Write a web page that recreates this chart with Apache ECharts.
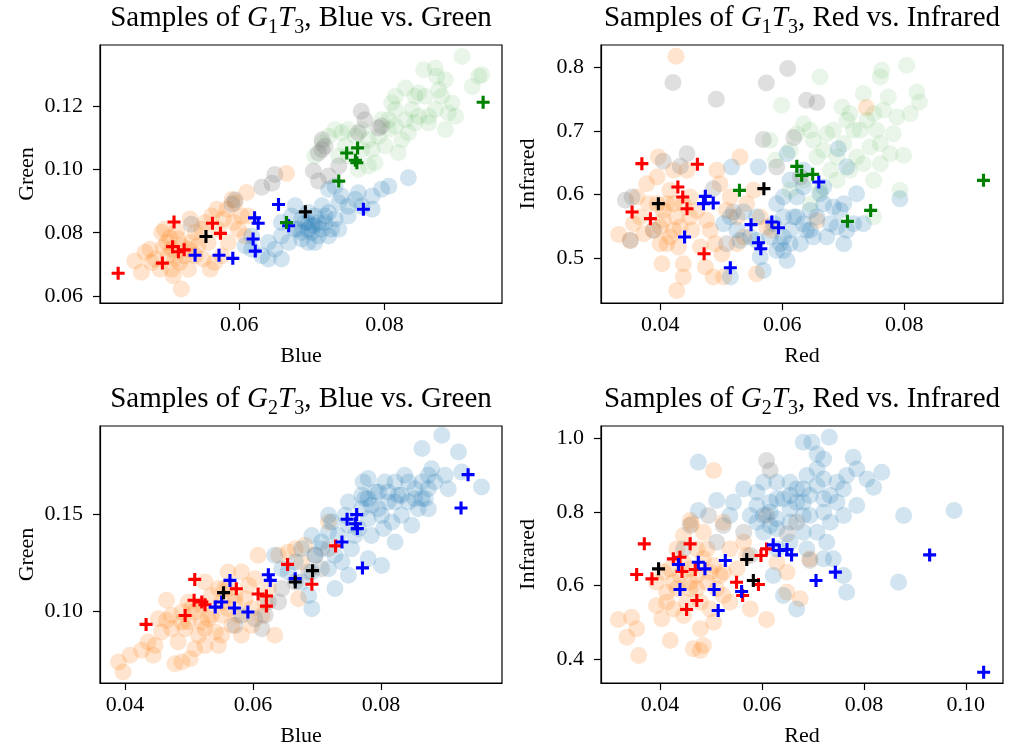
<!DOCTYPE html>
<html><head><meta charset="utf-8">
<script src="https://cdn.jsdelivr.net/npm/echarts@6/dist/echarts.min.js"></script>
<style>html,body{margin:0;padding:0;background:#fff}#c{width:1014px;height:749px}</style>
</head><body><div id="c"></div>
<script>
// ---------- Panel 1: G1T3 Blue vs Green ----------
const p1Orange=[[0.0456,0.0711],[0.0465,0.0675],[0.0477,0.0748],[0.0484,0.0717],[0.0493,0.0801],[0.0500,0.0769],[0.0507,0.0685],[0.0509,0.0664],[0.0520,0.0622],[0.0518,0.0706],[0.0525,0.0727],[0.0532,0.0843],[0.0539,0.0801],[0.0543,0.0759],[0.0550,0.0717],[0.0557,0.0769],[0.0562,0.0853],[0.0571,0.0811],[0.0583,0.0874],[0.0590,0.0905],[0.0594,0.0895],[0.0603,0.0853],[0.0610,0.0927],[0.0599,0.0811],[0.0585,0.0769],[0.0576,0.0727],[0.0566,0.0706],[0.0665,0.0987],[0.0497,0.0811],[0.0479,0.0706],[0.0470,0.0738],[0.0491,0.0685],[0.0511,0.0717],[0.0534,0.0769],[0.0548,0.0811],[0.0608,0.0790],[0.0612,0.0853],[0.0560,0.0685],[0.0530,0.0685],[0.0495,0.0753],[0.0504,0.0785],[0.0514,0.0806],[0.0553,0.0832],[0.0569,0.0874],[0.0578,0.0843],[0.0592,0.0832],[0.0507,0.0748],[0.0520,0.0759],[0.0516,0.0780],[0.0530,0.0748],[0.0502,0.0727],[0.0539,0.0727]];
const p1Gray=[[0.0534,0.0827],[0.0594,0.0903],[0.0590,0.0890],[0.0631,0.0944],[0.0645,0.0956],[0.0649,0.0984],[0.0702,0.0995],[0.0714,0.1094],[0.0714,0.1063],[0.0718,0.1073],[0.0709,0.1052],[0.0723,0.0979],[0.0768,0.1184],[0.0773,0.1157],[0.0792,0.1131],[0.0796,0.1137],[0.0764,0.1116],[0.0737,0.1011],[0.0709,0.0963]];
const p1Blue=[[0.0608,0.0759],[0.0617,0.0790],[0.0631,0.0727],[0.0640,0.0717],[0.0649,0.0748],[0.0658,0.0717],[0.0658,0.0790],[0.0668,0.0769],[0.0677,0.0811],[0.0672,0.0853],[0.0686,0.0843],[0.0695,0.0811],[0.0700,0.0822],[0.0704,0.0853],[0.0709,0.0790],[0.0718,0.0832],[0.0723,0.0864],[0.0727,0.0811],[0.0732,0.0843],[0.0737,0.0895],[0.0741,0.0916],[0.0750,0.0884],[0.0760,0.0905],[0.0764,0.0926],[0.0769,0.0884],[0.0783,0.0874],[0.0783,0.0916],[0.0796,0.0937],[0.0806,0.0947],[0.0833,0.0974],[0.0723,0.0937],[0.0732,0.0947],[0.0677,0.0885],[0.0695,0.0864],[0.0714,0.0885],[0.0737,0.0811],[0.0658,0.0832],[0.0640,0.0769],[0.0617,0.0748],[0.0750,0.0853],[0.0686,0.0780],[0.0681,0.0811],[0.0691,0.0832],[0.0700,0.0801],[0.0704,0.0822],[0.0695,0.0769],[0.0714,0.0811],[0.0723,0.0790],[0.0686,0.0801],[0.0704,0.0769],[0.0718,0.0853],[0.0709,0.0832],[0.0695,0.0832]];
const p1Green=[[0.0704,0.1042],[0.0714,0.1084],[0.0723,0.1105],[0.0732,0.1126],[0.0741,0.1116],[0.0750,0.1126],[0.0760,0.1105],[0.0769,0.1126],[0.0778,0.1094],[0.0783,0.1063],[0.0792,0.1105],[0.0801,0.1074],[0.0806,0.1126],[0.0815,0.1137],[0.0815,0.1189],[0.0810,0.1210],[0.0824,0.1094],[0.0829,0.1157],[0.0833,0.1116],[0.0838,0.1189],[0.0842,0.1231],[0.0847,0.1168],[0.0856,0.1231],[0.0861,0.1168],[0.0870,0.1189],[0.0875,0.1252],[0.0879,0.1231],[0.0884,0.1283],[0.0888,0.1178],[0.0893,0.1210],[0.0898,0.1168],[0.0907,0.1357],[0.0921,0.1262],[0.0930,0.1294],[0.0934,0.1299],[0.0854,0.1315],[0.0870,0.1320],[0.0872,0.1294],[0.0829,0.1257],[0.0750,0.1042],[0.0764,0.1000],[0.0778,0.1011],[0.0787,0.1021],[0.0737,0.1042],[0.0746,0.1074],[0.0769,0.1063],[0.0796,0.1157],[0.0806,0.1157],[0.0819,0.1053],[0.0842,0.1147],[0.0861,0.1147],[0.0884,0.1126],[0.0847,0.1242],[0.0815,0.1231]];
const p1RedX=[[0.0433,0.0672],[0.0494,0.0704],[0.0510,0.0834],[0.0508,0.0756],[0.0516,0.0740],[0.0524,0.0746],[0.0563,0.0830],[0.0574,0.0798]];
const p1BlueX=[[0.0539,0.0729],[0.0572,0.0729],[0.0591,0.0719],[0.0619,0.0780],[0.0622,0.0742],[0.0621,0.0847],[0.0626,0.0830],[0.0654,0.0889],[0.0668,0.0822],[0.0771,0.0874]];
const p1GreenX=[[0.0665,0.0832],[0.0748,0.1052],[0.0763,0.1068],[0.0760,0.1029],[0.0762,0.1021],[0.0737,0.0963],[0.0936,0.1212]];
const p1BlackX=[[0.0554,0.0788],[0.0691,0.0866]];

// ---------- Panel 2: G1T3 Red vs Infrared ----------
const p2Orange=[[0.0426,0.8169],[0.0738,0.7364],[0.0332,0.5378],[0.0351,0.5284],[0.0356,0.5545],[0.0367,0.5650],[0.0378,0.6173],[0.0381,0.5859],[0.0389,0.5441],[0.0395,0.6277],[0.0397,0.6591],[0.0400,0.5232],[0.0403,0.4918],[0.0405,0.5598],[0.0411,0.5859],[0.0416,0.6068],[0.0422,0.5441],[0.0427,0.5650],[0.0430,0.5179],[0.0438,0.4709],[0.0427,0.4500],[0.0438,0.4918],[0.0449,0.5963],[0.0452,0.5441],[0.0460,0.5754],[0.0466,0.5179],[0.0474,0.4866],[0.0476,0.5598],[0.0482,0.5441],[0.0487,0.4709],[0.0493,0.6382],[0.0498,0.6173],[0.0501,0.5070],[0.0504,0.4709],[0.0509,0.5754],[0.0515,0.5963],[0.0526,0.5650],[0.0531,0.6591],[0.0537,0.5336],[0.0542,0.5859],[0.0553,0.6068],[0.0558,0.4761],[0.0564,0.5650],[0.0575,0.5493],[0.0583,0.5441],[0.0657,0.5597],[0.0362,0.5963],[0.0373,0.5388],[0.0411,0.5232],[0.0444,0.6382],[0.0526,0.5232],[0.0490,0.5232],[0.0422,0.6382],[0.0395,0.5859],[0.0405,0.5754],[0.0422,0.5859],[0.0433,0.5493],[0.0416,0.5336],[0.0449,0.5650],[0.0438,0.5859],[0.0400,0.5493]];
const p2Gray=[[0.0421,0.7756],[0.0492,0.7495],[0.0574,0.7751],[0.0609,0.7976],[0.0640,0.7479],[0.0657,0.7443],[0.0569,0.6863],[0.0619,0.6894],[0.0444,0.6643],[0.0405,0.6523],[0.0433,0.6444],[0.0354,0.5963],[0.0343,0.5911],[0.0351,0.5284],[0.0389,0.5441],[0.0509,0.5232],[0.0591,0.6434],[0.0487,0.6094],[0.0520,0.5728],[0.0630,0.6277]];
const p2Blue=[[0.0517,0.6434],[0.0561,0.6434],[0.0608,0.6643],[0.0692,0.6721],[0.0706,0.6434],[0.0793,0.5937],[0.0504,0.5545],[0.0515,0.5650],[0.0526,0.5441],[0.0531,0.5284],[0.0537,0.5728],[0.0548,0.5336],[0.0558,0.5650],[0.0564,0.5022],[0.0569,0.4813],[0.0580,0.5336],[0.0591,0.5859],[0.0597,0.5232],[0.0602,0.5127],[0.0608,0.4970],[0.0613,0.5441],[0.0619,0.5650],[0.0624,0.5963],[0.0630,0.5232],[0.0635,0.6120],[0.0640,0.5441],[0.0646,0.5754],[0.0651,0.5336],[0.0657,0.5650],[0.0668,0.5859],[0.0673,0.5336],[0.0679,0.5545],[0.0684,0.5807],[0.0690,0.5493],[0.0695,0.5754],[0.0701,0.5859],[0.0706,0.5441],[0.0717,0.5545],[0.0722,0.6016],[0.0733,0.5545],[0.0701,0.5232],[0.0668,0.6120],[0.0635,0.6382],[0.0613,0.6225],[0.0586,0.5545],[0.0558,0.5284],[0.0662,0.6016],[0.0602,0.5963],[0.0515,0.4709],[0.0602,0.5336],[0.0613,0.5232],[0.0624,0.5650],[0.0635,0.5545],[0.0646,0.5441],[0.0602,0.5650],[0.0591,0.5127]];
const p2Green=[[0.0580,0.6852],[0.0589,0.6538],[0.0599,0.7401],[0.0613,0.6695],[0.0624,0.6956],[0.0635,0.7113],[0.0646,0.7009],[0.0651,0.6852],[0.0657,0.6591],[0.0662,0.7845],[0.0668,0.6695],[0.0673,0.6956],[0.0684,0.7009],[0.0690,0.6591],[0.0698,0.7375],[0.0701,0.6800],[0.0706,0.7166],[0.0711,0.7270],[0.0717,0.7009],[0.0722,0.6591],[0.0728,0.7009],[0.0733,0.7584],[0.0739,0.7166],[0.0744,0.6748],[0.0750,0.7270],[0.0755,0.7009],[0.0761,0.6800],[0.0761,0.7845],[0.0763,0.7950],[0.0766,0.7322],[0.0774,0.7532],[0.0777,0.6643],[0.0782,0.6956],[0.0788,0.7218],[0.0793,0.6068],[0.0799,0.6617],[0.0804,0.8028],[0.0810,0.7270],[0.0821,0.7610],[0.0825,0.7453],[0.0750,0.6225],[0.0761,0.6486],[0.0711,0.6382],[0.0679,0.6382],[0.0635,0.6225],[0.0662,0.6068],[0.0613,0.6068],[0.0646,0.5859],[0.0690,0.6225],[0.0733,0.6486],[0.0750,0.5650]];
const p2RedX=[[0.0370,0.6486],[0.0461,0.6476],[0.0429,0.6120],[0.0437,0.5963],[0.0354,0.5728],[0.0384,0.5624],[0.0444,0.5780],[0.0472,0.5075]];
const p2BlueX=[[0.0474,0.5974],[0.0471,0.5859],[0.0487,0.5869],[0.0440,0.5336],[0.0515,0.4855],[0.0549,0.5530],[0.0561,0.5247],[0.0565,0.5153],[0.0583,0.5571],[0.0594,0.5482],[0.0660,0.6199]];
const p2GreenX=[[0.0530,0.6068],[0.0624,0.6444],[0.0632,0.6303],[0.0650,0.6319],[0.0707,0.5582],[0.0745,0.5754],[0.0930,0.6225]];
const p2BlackX=[[0.0397,0.5859],[0.0570,0.6094]];

// ---------- Panel 3: G2T3 Blue vs Green ----------
const p3Orange=[[0.0390,0.0740],[0.0397,0.0688],[0.0408,0.0774],[0.0426,0.0800],[0.0436,0.0843],[0.0447,0.0825],[0.0444,0.0774],[0.0457,0.0894],[0.0465,0.0954],[0.0465,0.1057],[0.0473,0.0911],[0.0478,0.0731],[0.0483,0.0843],[0.0489,0.0740],[0.0494,0.0911],[0.0502,0.0757],[0.0504,0.1014],[0.0509,0.0808],[0.0515,0.0877],[0.0520,0.0945],[0.0525,0.0825],[0.0530,0.0962],[0.0535,0.1082],[0.0541,0.0894],[0.0546,0.0825],[0.0551,0.0980],[0.0556,0.1117],[0.0561,0.1202],[0.0567,0.0928],[0.0572,0.1048],[0.0577,0.0980],[0.0582,0.1202],[0.0588,0.1065],[0.0593,0.1134],[0.0598,0.1014],[0.0603,0.1168],[0.0608,0.1288],[0.0614,0.0980],[0.0619,0.1048],[0.0624,0.1117],[0.0634,0.0877],[0.0640,0.1288],[0.0655,0.1305],[0.0666,0.1322],[0.0676,0.1253],[0.0681,0.1339],[0.0671,0.1065],[0.0582,0.0877],[0.0452,0.0962],[0.0489,0.0997],[0.0525,0.1151],[0.0546,0.1117],[0.0561,0.1117],[0.0598,0.0928],[0.0718,0.1459],[0.0551,0.0877],[0.0499,0.0945],[0.0499,0.1048],[0.0509,0.0997],[0.0520,0.1031],[0.0535,0.0980],[0.0551,0.1048],[0.0572,0.1082],[0.0489,0.0945],[0.0473,0.0980],[0.0525,0.0911],[0.0561,0.1014]];
const p3Gray=[[0.0572,0.0928],[0.0582,0.0980],[0.0603,0.0962],[0.0619,0.0980],[0.0624,0.1048],[0.0640,0.1048],[0.0645,0.1117],[0.0666,0.1151],[0.0687,0.1202],[0.0697,0.1288],[0.0707,0.1219],[0.0718,0.1322],[0.0614,0.0911]];
const p3Blue=[[0.0634,0.1288],[0.0645,0.1219],[0.0666,0.1253],[0.0676,0.1151],[0.0687,0.1082],[0.0692,0.1014],[0.0692,0.1390],[0.0697,0.1288],[0.0707,0.1356],[0.0718,0.1219],[0.0723,0.1459],[0.0728,0.1117],[0.0733,0.1390],[0.0739,0.1253],[0.0744,0.1493],[0.0749,0.1185],[0.0754,0.1322],[0.0759,0.1390],[0.0765,0.1425],[0.0770,0.1527],[0.0772,0.1664],[0.0775,0.1579],[0.0780,0.1476],[0.0785,0.1390],[0.0791,0.1613],[0.0796,0.1527],[0.0801,0.1236],[0.0804,0.1425],[0.0811,0.1562],[0.0817,0.1459],[0.0822,0.1664],[0.0827,0.1596],[0.0832,0.1493],[0.0837,0.1699],[0.0843,0.1562],[0.0848,0.1442],[0.0853,0.1630],[0.0858,0.1527],[0.0864,0.1836],[0.0869,0.1579],[0.0874,0.1699],[0.0879,0.1733],[0.0884,0.1664],[0.0895,0.1904],[0.0900,0.1699],[0.0905,0.1630],[0.0921,0.1819],[0.0926,0.1716],[0.0957,0.1639],[0.0780,0.1270],[0.0718,0.1493],[0.0749,0.1562],[0.0806,0.1664],[0.0822,0.1356],[0.0749,0.1442],[0.0728,0.1288],[0.0692,0.1202],[0.0655,0.1202],[0.0676,0.1322],[0.0780,0.1682],[0.0864,0.1579],[0.0874,0.1527],[0.0770,0.1596],[0.0785,0.1545],[0.0796,0.1613],[0.0811,0.1613],[0.0822,0.1562],[0.0832,0.1596],[0.0843,0.1664],[0.0853,0.1579],[0.0864,0.1664],[0.0874,0.1630],[0.0801,0.1493],[0.0780,0.1579],[0.0718,0.1408],[0.0707,0.1322]];
const p3RedX=[[0.0433,0.0933],[0.0494,0.0979],[0.0509,0.1164],[0.0508,0.1057],[0.0520,0.1048],[0.0525,0.1034],[0.0574,0.1116],[0.0608,0.1089],[0.0621,0.1079],[0.0621,0.1027],[0.0654,0.1241],[0.0692,0.1139],[0.0729,0.1336]];
const p3BlueX=[[0.0564,0.1159],[0.0541,0.1022],[0.0551,0.1048],[0.0571,0.1017],[0.0592,0.0997],[0.0624,0.1188],[0.0627,0.1159],[0.0666,0.1168],[0.0739,0.1356],[0.0747,0.1473],[0.0762,0.1497],[0.0760,0.1450],[0.0763,0.1425],[0.0771,0.1223],[0.0925,0.1531],[0.0936,0.1702]];
const p3BlackX=[[0.0554,0.1096],[0.0666,0.1151],[0.0693,0.1209]];

// ---------- Panel 4: G2T3 Red vs Infrared ----------
const p4Orange=[[0.0505,0.9118],[0.0318,0.5078],[0.0344,0.5141],[0.0354,0.4825],[0.0335,0.4599],[0.0358,0.4102],[0.0393,0.5458],[0.0403,0.5096],[0.0420,0.4509],[0.0452,0.5548],[0.0465,0.4283],[0.0479,0.4238],[0.0485,0.4373],[0.0479,0.4825],[0.0505,0.5006],[0.0577,0.5367],[0.0609,0.5078],[0.0675,0.5639],[0.0649,0.6361],[0.0459,0.7762],[0.0462,0.7672],[0.0446,0.7356],[0.0472,0.6994],[0.0426,0.6090],[0.0413,0.5819],[0.0439,0.6271],[0.0459,0.5910],[0.0492,0.6090],[0.0505,0.6542],[0.0518,0.6271],[0.0524,0.5729],[0.0537,0.5548],[0.0551,0.6452],[0.0570,0.6813],[0.0479,0.5548],[0.0446,0.5187],[0.0498,0.5367],[0.0426,0.5367],[0.0393,0.6090],[0.0407,0.6361],[0.0433,0.6994],[0.0492,0.6994],[0.0537,0.6994],[0.0524,0.7717],[0.0485,0.7446],[0.0564,0.7175],[0.0459,0.6452],[0.0694,0.6723],[0.0629,0.6633],[0.0649,0.5819],[0.0420,0.6452],[0.0433,0.5910],[0.0459,0.6090],[0.0472,0.6271],[0.0485,0.6723],[0.0498,0.6361],[0.0511,0.5910],[0.0446,0.6633],[0.0413,0.5548],[0.0524,0.6361],[0.0472,0.5910]];
const p4Gray=[[0.0609,0.9389],[0.0616,0.9118],[0.0495,0.7898],[0.0459,0.7627],[0.0446,0.6994],[0.0524,0.7627],[0.0564,0.7446],[0.0609,0.7898],[0.0649,0.7401],[0.0668,0.7717],[0.0694,0.6678],[0.0577,0.6813],[0.0511,0.7175]];
const p4Blue=[[0.0475,0.9344],[0.0681,0.9886],[0.0698,0.9886],[0.0732,1.0022],[0.0708,0.9570],[0.0721,0.9434],[0.0779,0.9479],[0.0786,0.9163],[0.0806,0.8892],[0.0819,0.8666],[0.0835,0.9073],[0.0878,0.7898],[0.0977,0.8034],[0.0868,0.6090],[0.0766,0.5819],[0.0668,0.5367],[0.0642,0.5729],[0.0622,0.6271],[0.0708,0.9163],[0.0721,0.8892],[0.0747,0.8802],[0.0760,0.8621],[0.0766,0.8982],[0.0688,0.8982],[0.0668,0.8621],[0.0655,0.8802],[0.0642,0.8350],[0.0616,0.8259],[0.0603,0.8802],[0.0590,0.8531],[0.0564,0.8621],[0.0544,0.8259],[0.0511,0.8305],[0.0475,0.8034],[0.0537,0.7898],[0.0577,0.7898],[0.0590,0.7717],[0.0603,0.7446],[0.0629,0.7808],[0.0655,0.8079],[0.0681,0.8259],[0.0694,0.7898],[0.0721,0.7988],[0.0734,0.7717],[0.0747,0.8259],[0.0760,0.7898],[0.0786,0.8169],[0.0681,0.7446],[0.0708,0.7446],[0.0727,0.7175],[0.0740,0.6723],[0.0760,0.6271],[0.0688,0.6994],[0.0721,0.6723],[0.0655,0.7175],[0.0629,0.6994],[0.0616,0.7627],[0.0629,0.8802],[0.0734,0.8440],[0.0590,0.8169],[0.0616,0.7988],[0.0629,0.8350],[0.0655,0.8440],[0.0668,0.8259],[0.0681,0.8621],[0.0694,0.8440],[0.0708,0.8711],[0.0721,0.8350],[0.0629,0.7537],[0.0603,0.7898],[0.0655,0.7717],[0.0681,0.7898]];
const p4RedX=[[0.0369,0.7130],[0.0459,0.7130],[0.0354,0.6298],[0.0384,0.6181],[0.0426,0.6723],[0.0439,0.6768],[0.0443,0.6380],[0.0469,0.6434],[0.0472,0.5593],[0.0452,0.5349],[0.0550,0.6090],[0.0562,0.5729],[0.0593,0.6027],[0.0598,0.6813],[0.0609,0.6994]];
const p4BlueX=[[0.0436,0.6569],[0.0475,0.6633],[0.0488,0.6452],[0.0528,0.6678],[0.0439,0.5892],[0.0506,0.5892],[0.0514,0.5322],[0.0560,0.5837],[0.0622,0.7103],[0.0634,0.6949],[0.0649,0.6976],[0.0658,0.6831],[0.0706,0.6136],[0.0744,0.6362],[0.0929,0.6831],[0.1035,0.3650]];
const p4BlackX=[[0.0397,0.6452],[0.0570,0.6705],[0.0583,0.6136]];

// ---------- ticks & labels ----------
const p1XTicks=[0.06,0.08], p1YTicks=[0.06,0.08,0.10,0.12];
const p2XTicks=[0.04,0.06,0.08], p2YTicks=[0.5,0.6,0.7,0.8];
const p3XTicks=[0.04,0.06,0.08], p3YTicks=[0.10,0.15];
const p4XTicks=[0.04,0.06,0.08,0.10], p4YTicks=[0.4,0.6,0.8,1.0];
const titles=[["G","1","T","3",", Blue vs. Green"],["G","1","T","3",", Red vs. Infrared"],["G","2","T","3",", Blue vs. Green"],["G","2","T","3",", Red vs. Infrared"]];
const xNames=["Blue","Red","Blue","Red"], yNames=["Green","Infrared","Green","Infrared"];

const FONT='"Liberation Serif", "DejaVu Serif", serif';
const PLUS='path://M3.8,0H6.2V3.8H10V6.2H6.2V10H3.8V6.2H0V3.8H3.8Z';
const grids=[{left:100,top:45,width:402,height:258},{left:601,top:45,width:402,height:258},{left:100,top:426,width:402,height:257},{left:601,top:426,width:402,height:257}];
const ranges=[
  {x:[0.0408,0.0962],y:[0.0578,0.1393],xt:p1XTicks,yt:p1YTicks,xd:2,yd:2},
  {x:[0.0303,0.0962],y:[0.4303,0.8345],xt:p2XTicks,yt:p2YTicks,xd:2,yd:1},
  {x:[0.0361,0.0989],y:[0.0632,0.1952],xt:p3XTicks,yt:p3YTicks,xd:2,yd:2},
  {x:[0.0284,0.1073],y:[0.3357,1.0326],xt:p4XTicks,yt:p4YTicks,xd:2,yd:1}
];
const OR='rgba(255,127,14,0.2)', BL='rgba(31,119,180,0.2)', GR='rgba(44,160,44,0.1)', GY='rgba(128,128,128,0.25)';
const panels=[
  {circles:[[p1Orange,OR],[p1Blue,BL],[p1Green,GR],[p1Gray,GY]],crosses:[[p1RedX,'#ff0000'],[p1BlueX,'#0000ff'],[p1GreenX,'#008000'],[p1BlackX,'#000000']]},
  {circles:[[p2Orange,OR],[p2Blue,BL],[p2Green,GR],[p2Gray,GY]],crosses:[[p2RedX,'#ff0000'],[p2BlueX,'#0000ff'],[p2GreenX,'#008000'],[p2BlackX,'#000000']]},
  {circles:[[p3Orange,OR],[p3Blue,BL],[p3Gray,GY]],crosses:[[p3RedX,'#ff0000'],[p3BlueX,'#0000ff'],[p3BlackX,'#000000']]},
  {circles:[[p4Orange,OR],[p4Blue,BL],[p4Gray,GY]],crosses:[[p4RedX,'#ff0000'],[p4BlueX,'#0000ff'],[p4BlackX,'#000000']]}
];

const option={animation:false,backgroundColor:'#fff',title:[],grid:[],xAxis:[],yAxis:[],series:[]};
const lineSt={color:'#000',width:1.2};
const base={fontFamily:FONT,color:'#000',fontWeight:'normal',lineHeight:34,verticalAlign:'bottom'};
grids.forEach((g,i)=>{
  option.grid.push(Object.assign({show:true,borderColor:'#000',borderWidth:1.2,backgroundColor:'transparent'},g));
  const r=ranges[i];
  const t=titles[i];
  option.title.push({
    text:'{n|Samples of }{it|'+t[0]+'}{sub|'+t[1]+'}{it|'+t[2]+'}{sub|'+t[3]+'}{n|'+t[4]+'}',
    left:g.left+g.width/2, top:g.top-46, textAlign:'center', padding:0,
    textStyle:{fontWeight:'normal',rich:{
      n:Object.assign({},base,{fontSize:29}),
      it:Object.assign({},base,{fontSize:29,fontStyle:'italic'}),
      sub:Object.assign({},base,{fontSize:20,padding:[0,0,-5,0]})
    }}
  });
  option.xAxis.push({
    type:'value',gridIndex:i,min:r.x[0],max:r.x[1],position:'bottom',
    name:xNames[i],nameLocation:'middle',nameGap:42,
    nameTextStyle:{fontFamily:FONT,fontSize:22,color:'#000'},
    axisLine:{show:true,onZero:false,lineStyle:lineSt},
    splitLine:{show:false},
    axisTick:{show:true,length:7,lineStyle:lineSt,customValues:r.xt},
    axisLabel:{show:true,margin:11,fontFamily:FONT,fontSize:22,color:'#000',customValues:r.xt,formatter:(v)=>v.toFixed(r.xd)}
  });
  option.yAxis.push({
    type:'value',gridIndex:i,min:r.y[0],max:r.y[1],
    name:yNames[i],nameLocation:'middle',nameGap:62,nameRotate:90,
    nameTextStyle:{fontFamily:FONT,fontSize:22,color:'#000'},
    axisLine:{show:true,onZero:false,lineStyle:lineSt},
    splitLine:{show:false},
    axisTick:{show:true,length:7,lineStyle:lineSt,customValues:r.yt},
    axisLabel:{show:true,margin:17,fontFamily:FONT,fontSize:22,color:'#000',customValues:r.yt,formatter:(v)=>v.toFixed(r.yd)}
  });
  panels[i].circles.forEach(([d,c])=>{
    option.series.push({type:'scatter',xAxisIndex:i,yAxisIndex:i,data:d,symbol:'circle',symbolSize:17,itemStyle:{color:c,opacity:1},silent:true});
  });
  panels[i].crosses.forEach(([d,c])=>{
    option.series.push({type:'scatter',xAxisIndex:i,yAxisIndex:i,data:d,symbol:PLUS,symbolSize:13,itemStyle:{color:c,opacity:1},silent:true,z:5});
  });
});
const chart=echarts.init(document.getElementById('c'),null,{renderer:'canvas'});
chart.setOption(option);
</script></body></html>
